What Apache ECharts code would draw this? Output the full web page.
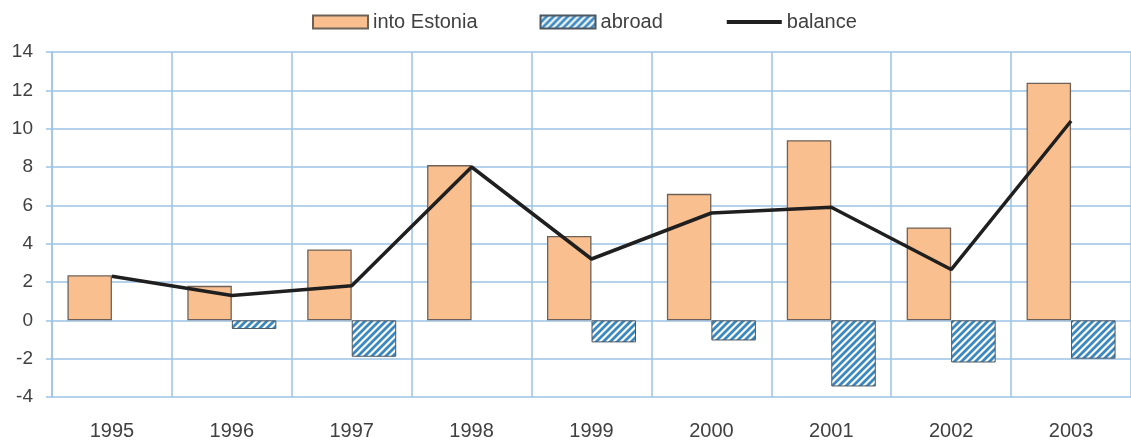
<!DOCTYPE html>
<html>
<head>
<meta charset="utf-8">
<script src="https://cdn.jsdelivr.net/npm/echarts@6/dist/echarts.min.js"></script>
<style>
html,body{margin:0;padding:0;background:#fff;}
#chart{width:1131px;height:441px;}
</style>
</head>
<body>
<div id="chart"></div>
<script>
const years = ['1995','1996','1997','1998','1999','2000','2001','2002','2003'];
const intoEstonia = [2.35, 1.8, 3.7, 8.1, 4.4, 6.6, 9.4, 4.85, 12.4];
const abroad = [null, -0.45, -1.9, null, -1.15, -1.05, -3.45, -2.2, -2.0];
const balance = [2.3, 1.3, 1.8, 8.0, 3.2, 5.6, 5.9, 2.65, 10.4];
const seriesNames = ['into Estonia', 'abroad', 'balance'];

// diagonal hatch texture
const T = 7;
const tile = document.createElement('canvas');
tile.width = T; tile.height = T;
const c = tile.getContext('2d');
c.fillStyle = '#ffffff';
c.fillRect(0, 0, T, T);
c.strokeStyle = '#3A88C0';
c.lineWidth = 2.8;
c.beginPath();
c.moveTo(-2, T + 2); c.lineTo(T + 2, -2);
c.moveTo(-2, 2); c.lineTo(2, -2);
c.moveTo(T - 2, T + 2); c.lineTo(T + 2, T - 2);
c.stroke();

const gridBlue = '#9DC3E6';
const textColor = '#404040';
const font = 'Liberation Sans, Arial, sans-serif';

const chart = echarts.init(document.getElementById('chart'), null, {renderer: 'canvas'});
chart.setOption({
  animation: false,
  backgroundColor: '#ffffff',
  textStyle: {fontFamily: font, color: textColor},
  legend: {
    data: [
      {name: seriesNames[0], icon: 'rect'},
      {name: seriesNames[1], icon: 'rect'},
      {name: seriesNames[2], itemStyle: {opacity: 0}, lineStyle: {width: 4, color: '#1F1F1F'}}
    ],
    left: 307,
    top: 7,
    itemWidth: 55,
    itemHeight: 13,
    itemGap: 62,
    textStyle: {fontFamily: font, fontSize: 20, color: textColor}
  },
  grid: {left: 52, top: 52, width: 1084, height: 346},
  xAxis: {
    type: 'category',
    data: years,
    boundaryGap: true,
    axisLine: {show: false, onZero: false},
    axisTick: {show: false},
    splitLine: {show: true, lineStyle: {color: gridBlue, width: 1.5}},
    axisLabel: {fontFamily: font, fontSize: 20, color: textColor, margin: 24}
  },
  yAxis: {
    type: 'value',
    min: -4, max: 14, interval: 2,
    axisLine: {show: true, lineStyle: {color: gridBlue, width: 1.5}},
    axisTick: {show: true, length: 6, lineStyle: {color: gridBlue, width: 1.5}},
    splitLine: {show: true, lineStyle: {color: gridBlue, width: 1.5}},
    axisLabel: {fontFamily: font, fontSize: 19, color: textColor, margin: 19}
  },
  series: [
    {
      name: seriesNames[0], type: 'bar', data: intoEstonia,
      barWidth: 44.5, barGap: '0%',
      itemStyle: {color: '#FABF8F', borderColor: '#6E6258', borderWidth: 1.3}
    },
    {
      name: seriesNames[1], type: 'bar', data: abroad,
      barWidth: 44.5, barGap: '0%',
      itemStyle: {color: {image: tile, repeat: 'repeat'}, borderColor: '#4d5660', borderWidth: 1}
    },
    {
      name: seriesNames[2], type: 'line', data: balance,
      symbol: 'none', z: 5,
      lineStyle: {color: '#1F1F1F', width: 3.5},
      itemStyle: {color: '#1F1F1F'}
    }
  ]
});
</script>
</body>
</html>
